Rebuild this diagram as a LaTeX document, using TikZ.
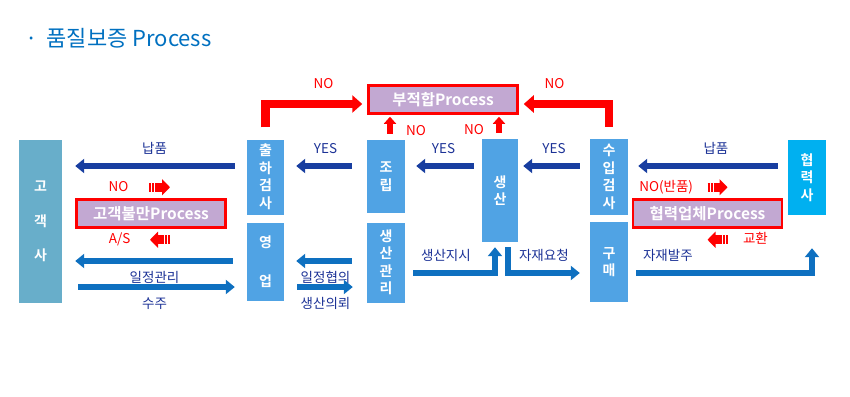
\documentclass[tikz,border=0pt]{standalone}
\usepackage{fontspec}
\setmainfont{Noto Sans CJK KR}[BoldFont={Noto Sans CJK KR Bold}]
\usetikzlibrary{arrows.meta}
\definecolor{stepblue}{RGB}{80,163,228}
\definecolor{custteal}{RGB}{104,174,202}
\definecolor{partnercyan}{RGB}{0,176,240}
\definecolor{procpurple}{RGB}{194,168,210}
\definecolor{navyflow}{RGB}{24,62,160}
\definecolor{midflow}{RGB}{14,112,192}
\definecolor{lblblue}{RGB}{28,50,150}
\definecolor{titleblue}{RGB}{0,112,192}
\tikzset{
  stage/.style={fill=stepblue, text=white, font=\fontsize{14}{17.5}\selectfont\bfseries, align=center, inner sep=0pt},
  proc/.style={draw=red, line width=2.5pt, fill=procpurple, text=white, font=\fontsize{15.5}{17}\selectfont\bfseries, inner sep=0pt, minimum width=149pt, minimum height=28pt},
  darkarrow/.style={draw=navyflow, line width=6.5pt, -{Triangle[width=14pt,length=9pt]}},
  bluearrow/.style={draw=midflow, line width=6.5pt, -{Triangle[width=14pt,length=9pt]}},
  redarrow/.style={draw=red, line width=8.5pt, -{Triangle[width=17pt,length=10pt]}},
  redup/.style={draw=red, line width=6pt, -{Triangle[width=12pt,length=7pt]}},
  sidearrow/.style={draw=red, line width=9pt, dash pattern=on 2pt off 1pt on 2pt off 1pt on 40pt off 1pt, -{Triangle[width=16pt,length=8pt]}},
  lblup/.style={text=lblblue, font=\fontsize{13.5}{15}\selectfont, text height=10pt, text depth=2pt, inner sep=0pt, above=7pt},
  lbldown/.style={text=lblblue, font=\fontsize{13.5}{15}\selectfont, text height=10pt, text depth=2pt, inner sep=0pt, below=8pt},
  redlbl/.style={text=red, font=\fontsize{13.5}{15}\selectfont, text height=10pt, text depth=2pt, inner sep=0pt}
}
\begin{document}
\begin{tikzpicture}[x=1pt,y=-1pt]
	\useasboundingbox (0,0) rectangle (850,396);
	\node[anchor=west, inner sep=0pt, text=titleblue, font=\fontsize{22}{24}\selectfont] (title) at (25,38) {·\hspace{9pt}품질보증 Process};
	% rows
	\coordinate (rowtop) at (0,166);
	\coordinate (rowplan) at (0,261);
	\coordinate (roworder) at (0,287);
	\coordinate (rowflow) at (0,273);
	% boxes
	\node[stage, fill=custteal, minimum width=43pt, minimum height=163pt] (cust) at (40.5,221.5) {고\\[17pt]객\\[17pt]사};
	\node[stage, minimum width=37pt, minimum height=75pt] (ship) at (265.5,177) {출\\하\\검\\사};
	\node[stage, minimum width=37pt, minimum height=78pt] (sales) at (265.5,261.5) {영\\[21pt]업};
	\node[stage, minimum width=38pt, minimum height=73pt] (asm) at (386,176.5) {조\\립};
	\node[stage, minimum width=38pt, minimum height=80pt] (mgmt) at (386,262.5) {생\\산\\관\\리};
	\node[stage, minimum width=36pt, minimum height=103pt] (prod) at (500,190.5) {생\\산};
	\node[stage, minimum width=38pt, minimum height=76pt] (inspect) at (609,177) {수\\입\\검\\사};
	\node[stage, minimum width=38pt, minimum height=80pt] (buy) at (609,262) {구\\매};
	\node[stage, fill=partnercyan, minimum width=38pt, minimum height=75pt] (partner) at (807,177.5) {협\\력\\사};
	% process boxes
	\node[proc] (nonconf) at (443,99.5) {부적합Process};
	\node[proc] (cmpl) at (151,213.5) {고객불만Process};
	\node[proc] (vendor) at (707.5,213.5) {협력업체Process};
	% delivery and yes
	\draw[darkarrow, shorten <=12pt, shorten >=13pt] (ship.west |- rowtop) -- node[lblup] (lbldeliv) {납품} (cust.east |- rowtop);
	\draw[darkarrow, shorten <=15pt, shorten >=12pt] (asm.west |- rowtop) -- node[lblup] (yesship) {YES} (ship.east |- rowtop);
	\draw[darkarrow, shorten <=8pt, shorten >=11pt] (prod.west |- rowtop) -- node[lblup] (yesasm) {YES} (asm.east |- rowtop);
	\draw[darkarrow, shorten <=10pt, shorten >=5pt] (inspect.west |- rowtop) -- node[lblup] (yesprod) {YES} (prod.east |- rowtop);
	\draw[darkarrow, shorten <=10pt, shorten >=10pt] (partner.west |- rowtop) -- node[lblup, pos=0.45] (lblsupply) {납품} (inspect.east |- rowtop);
	% sales
	\draw[bluearrow, shorten <=14pt, shorten >=13pt] (sales.west |- rowplan) -- node[lbldown] (lblsched) {일정관리} (cust.east |- rowplan);
	\draw[bluearrow, shorten <=16pt, shorten >=12pt] (cust.east |- roworder) -- node[lbldown] (lblorder) {수주} (sales.west |- roworder);
	\draw[bluearrow, shorten <=15pt, shorten >=12pt] (mgmt.west |- rowplan) -- node[lbldown] (lblsync) {일정협의} (sales.east |- rowplan);
	\draw[bluearrow, shorten <=13pt, shorten >=14pt] (sales.east |- roworder) -- node[lbldown] (lblreq) {생산의뢰} (mgmt.west |- roworder);
	% material flow
	\draw[bluearrow] ([xshift=8pt]mgmt.east |- rowflow) -| node[lblup, pos=0.2] (lblinstr) {생산지시} ([xshift=-5pt,yshift=-5pt]prod.south);
	\draw[bluearrow] ([xshift=8pt,yshift=-5pt]prod.south) |- node[lblup, pos=0.75] (lblmat) {자재요청} ([xshift=-10pt]buy.west |- rowflow);
	\draw[bluearrow] ([xshift=8pt]buy.east |- rowflow) -| node[lblup, pos=0.09] (lblpurch) {자재발주} ([xshift=5pt,yshift=-33pt]partner.south);
	% nonconforming
	\draw[redarrow] ([yshift=12pt]ship.north) |- node[redlbl, above=9pt, pos=0.8] (noship) {NO} ([xshift=-5pt,yshift=-4.5pt]nonconf.west);
	\draw[redarrow] ([yshift=12pt]inspect.north) |- node[redlbl, above=9pt, pos=0.82] (noinspect) {NO} ([xshift=5pt,yshift=-4.5pt]nonconf.east);
	\draw[redup] ([xshift=4pt,yshift=6pt]asm.north) node[redlbl, anchor=west, xshift=13pt, yshift=2pt] (noasm) {NO} -- ([xshift=4pt,yshift=-2pt]asm.north |- nonconf.south);
	\draw[redup] ([xshift=-1pt,yshift=6pt]prod.north) node[redlbl, anchor=east, xshift=-12pt, yshift=2pt] (noprod) {NO} -- ([xshift=-1pt,yshift=-2pt]prod.north |- nonconf.south);
	% complaint and vendor
	\draw[sidearrow] ([xshift=-2pt,yshift=11pt]cmpl.north) node[redlbl, anchor=east, xshift=-16pt] (nocmpl) {NO} -- ++(21,0);
	\draw[sidearrow] ([xshift=19pt,yshift=-11pt]cmpl.south) -- ++(-20,0) node[redlbl, anchor=east, xshift=-15pt] (ascmpl) {A/S};
	\draw[sidearrow] ([yshift=11pt]vendor.north) node[redlbl, anchor=east, xshift=-10pt] (novendor) {NO(반품)} -- ++(20,0);
	\draw[sidearrow] ([xshift=20pt,yshift=-11pt]vendor.south) node[redlbl, anchor=west, xshift=11pt] (swapvendor) {교환} -- ++(-20,0);
\end{tikzpicture}
\end{document}
